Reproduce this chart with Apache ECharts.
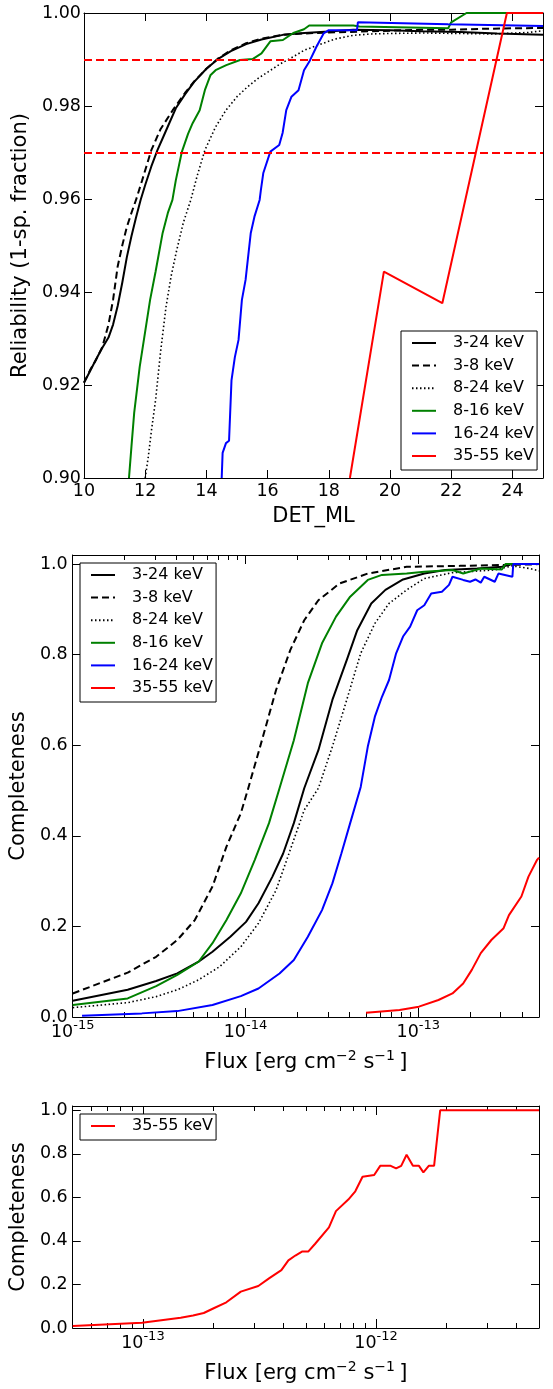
<!DOCTYPE html>
<html><head><meta charset="utf-8">
<script src="https://cdn.jsdelivr.net/npm/echarts@6/dist/echarts.min.js"></script>
<style>html,body{margin:0;padding:0;background:#fff}#c{width:553px;height:1389px}</style>
</head><body><div id="c"></div>
<script>
// ================= DATA =================
const bands = ['3-24 keV', '3-8 keV', '8-24 keV', '8-16 keV', '16-24 keV', '35-55 keV'];

// --- Panel 1: Reliability (1 - spurious fraction) vs DET_ML ---
const detML_3_24 = [10.0,10.2,10.4,10.6,10.8,10.95,11.1,11.25,11.4,11.55,11.7,11.85,12.0,12.2,12.4,12.6,12.8,13.0,13.3,13.6,14.0,14.4,14.8,15.3,15.8,16.5,17.2,18.0,18.8,20.0,21.0,22.3,23.5,25.0];
const rel_3_24   = [0.9205,0.9230,0.9256,0.9280,0.9302,0.9330,0.9370,0.9420,0.9475,0.9520,0.9560,0.9598,0.9630,0.9670,0.9705,0.9735,0.9765,0.9795,0.9825,0.9852,0.9880,0.9902,0.9918,0.9933,0.9943,0.9953,0.9957,0.9960,0.9964,0.9963,0.9961,0.9959,0.9956,0.9953];

const detML_3_8 = [10.0,10.2,10.4,10.6,10.8,10.95,11.1,11.25,11.4,11.55,11.7,11.9,12.2,12.5,12.9,13.3,13.6,14.0,14.4,14.8,15.3,15.8,16.5,17.2,18.0,19.0,20.0,21.0,22.0,23.0,24.0,25.0];
const rel_3_8   = [0.9205,0.9232,0.9255,0.9282,0.9330,0.9383,0.9455,0.9500,0.9540,0.9570,0.9598,0.9640,0.9705,0.9750,0.9791,0.9828,0.9853,0.9880,0.9903,0.9920,0.9935,0.9945,0.9953,0.9956,0.9958,0.9960,0.9962,0.9964,0.9964,0.9966,0.9967,0.9968];

const detML_8_24 = [12.0,12.1,12.2,12.34,12.5,12.68,12.85,13.03,13.25,13.49,13.7,13.95,14.3,14.64,15.0,15.34,15.7,16.03,16.4,16.84,17.2,17.65,18.2,18.8,19.4,20.0,21.1,22.2,23.4,24.5,25.0];
const rel_8_24   = [0.9000,0.9045,0.9100,0.9168,0.9270,0.9368,0.9435,0.9490,0.9550,0.9598,0.9650,0.9705,0.9755,0.9791,0.9820,0.9841,0.9860,0.9874,0.9890,0.9906,0.9920,0.9931,0.9944,0.9952,0.9955,0.9956,0.9957,0.9956,0.9955,0.9958,0.9962];

const detML_8_16 = [11.47,11.55,11.64,11.82,11.99,12.16,12.34,12.57,12.74,12.89,13.0,13.2,13.4,13.55,13.78,13.95,14.13,14.3,14.65,15.1,15.51,15.8,16.09,16.5,16.84,17.19,17.36,18.8,19.0,21.9,22.0,22.5,25.0];
const rel_8_16   = [0.9000,0.9067,0.9140,0.9239,0.9311,0.9383,0.9444,0.9527,0.9570,0.9598,0.9640,0.9702,0.9740,0.9763,0.9791,0.9834,0.9866,0.9877,0.9888,0.9899,0.9901,0.9913,0.9939,0.9942,0.9957,0.9965,0.9973,0.9973,0.9971,0.9967,0.9980,1.0000,1.0000];

const detML_16_24 = [14.5,14.53,14.64,14.74,14.82,14.93,15.05,15.16,15.28,15.45,15.57,15.74,15.78,15.86,16.09,16.38,16.49,16.61,16.78,17.01,17.19,17.36,17.6,17.83,18.0,18.92,18.95,21.9,25.0];
const rel_16_24   = [0.9000,0.9054,0.9075,0.9080,0.9210,0.9260,0.9297,0.9383,0.9426,0.9527,0.9562,0.9598,0.9619,0.9656,0.9702,0.9716,0.9742,0.9791,0.9820,0.9834,0.9877,0.9895,0.9928,0.9956,0.9963,0.9963,0.9980,0.9976,0.9972];

const detML_35_55 = [18.69,19.8,21.71,23.82,25.0];
const rel_35_55   = [0.900,0.9444,0.9376,1.000,1.000];

const relThresholds = [0.99, 0.97];
const detMLTicks = [10,12,14,16,18,20,22,24];

// --- Panel 2: Completeness vs flux (erg cm^-2 s^-1) ---
const flux_3_24 = [1.0e-15,2.08e-15,3.04e-15,4.03e-15,5.35e-15,6.44e-15,8.17e-15,1.007e-14,1.189e-14,1.432e-14,1.652e-14,1.905e-14,2.188e-14,2.642e-14,3.184e-14,3.855e-14,4.436e-14,5.346e-14,6.457e-14,8.166e-14,1.084e-13,1.432e-13,2.193e-13,3.048e-13,3.491e-13,5.0e-13];
const comp_3_24 = [0.036,0.060,0.0795,0.0964,0.122,0.144,0.177,0.210,0.251,0.310,0.361,0.428,0.505,0.589,0.700,0.788,0.854,0.913,0.943,0.966,0.979,0.987,0.990,0.994,1.0,1.0];

const flux_3_8 = [1.0e-15,2.08e-15,3.04e-15,4.03e-15,5.09e-15,6.44e-15,7.76e-15,9.40e-15,1.030e-14,1.245e-14,1.503e-14,1.816e-14,2.188e-14,2.642e-14,3.499e-14,5.105e-14,8.570e-14,1.738e-13,4.467e-13,5.0e-13];
const comp_3_8 = [0.052,0.098,0.133,0.170,0.214,0.288,0.376,0.450,0.501,0.611,0.722,0.810,0.876,0.920,0.957,0.979,0.994,0.996,0.999,1.0];

const flux_8_24 = [1.0e-15,2.08e-15,3.04e-15,4.03e-15,5.35e-15,7.08e-15,9.40e-15,1.189e-14,1.503e-14,1.816e-14,2.188e-14,2.642e-14,3.184e-14,3.855e-14,4.645e-14,5.610e-14,6.776e-14,8.570e-14,1.084e-13,1.578e-13,2.773e-13,3.491e-13,4.436e-13,5.0e-13];
const comp_8_24 = [0.0206,0.0317,0.045,0.060,0.082,0.111,0.155,0.207,0.280,0.369,0.457,0.505,0.597,0.700,0.803,0.869,0.913,0.943,0.968,0.981,0.987,0.996,0.990,0.985];

const flux_8_16 = [1.0e-15,2.08e-15,3.04e-15,4.03e-15,5.35e-15,6.44e-15,7.76e-15,9.40e-15,1.132e-14,1.368e-14,1.574e-14,1.905e-14,2.296e-14,2.773e-14,3.342e-14,4.036e-14,5.105e-14,6.166e-14,8.570e-14,1.084e-13,1.578e-13,1.820e-13,2.301e-13,3.048e-13,3.199e-13,5.0e-13];
const comp_8_16 = [0.0265,0.041,0.068,0.093,0.122,0.163,0.214,0.273,0.347,0.428,0.505,0.611,0.737,0.825,0.884,0.928,0.965,0.976,0.979,0.983,0.987,0.979,0.990,0.988,1.0,1.0];

const flux_16_24 = [1.132e-15,2.512e-15,4.03e-15,6.44e-15,9.40e-15,1.189e-14,1.574e-14,1.905e-14,2.296e-14,2.773e-14,3.184e-14,3.589e-14,4.036e-14,4.645e-14,5.105e-14,5.610e-14,6.166e-14,6.776e-14,7.447e-14,8.166e-14,8.974e-14,9.863e-14,1.084e-13,1.189e-13,1.371e-13,1.507e-13,1.578e-13,1.820e-13,1.995e-13,2.143e-13,2.301e-13,2.410e-13,2.773e-13,2.911e-13,3.508e-13,3.548e-13,5.0e-13];
const comp_16_24 = [0.003,0.008,0.013,0.0265,0.046,0.063,0.096,0.126,0.177,0.236,0.295,0.361,0.428,0.508,0.597,0.663,0.707,0.744,0.803,0.840,0.862,0.898,0.909,0.935,0.939,0.954,0.972,0.965,0.961,0.966,0.959,0.972,0.961,0.979,0.972,1.0,1.0];

const flux_35_55 = [4.989e-14,7.798e-14,1.009e-13,1.309e-13,1.578e-13,1.820e-13,2.042e-13,2.301e-13,2.649e-13,3.119e-13,3.350e-13,3.954e-13,4.345e-13,4.875e-13,5.0e-13];
const comp_35_55 = [0.0095,0.0155,0.0228,0.0375,0.052,0.074,0.104,0.141,0.170,0.196,0.225,0.266,0.310,0.347,0.352];

// --- Panel 3: 35-55 keV completeness over a wider flux range ---
const fluxWide_35_55 = [5.0e-14,9.91e-14,1.452e-13,1.641e-13,1.824e-13,2.023e-13,2.280e-13,2.630e-13,3.126e-13,3.475e-13,3.926e-13,4.207e-13,4.508e-13,4.831e-13,5.129e-13,5.470e-13,6.281e-13,6.730e-13,7.603e-13,8.147e-13,8.750e-13,8.913e-13,9.817e-13,1.042e-12,1.156e-12,1.219e-12,1.282e-12,1.352e-12,1.439e-12,1.528e-12,1.596e-12,1.683e-12,1.774e-12,1.884e-12,5.0e-12];
const compWide_35_55 = [0.009,0.024,0.047,0.057,0.069,0.092,0.118,0.167,0.193,0.228,0.266,0.311,0.333,0.352,0.352,0.386,0.462,0.537,0.590,0.628,0.695,0.703,0.703,0.745,0.745,0.733,0.745,0.796,0.745,0.745,0.715,0.745,0.745,1.0,1.0];

// ================= STYLE =================
const FF = 'DejaVu Sans';
const TFS = 17.5, NFS = 21, LFS = 16;
const BLACK = '#000000', GREEN = '#008000', BLUE = '#0000ff', RED = '#ff0000';
const bandStyle = {
  '3-24 keV':  {color: BLACK, type: 'solid', width: 2},
  '3-8 keV':   {color: BLACK, type: [7, 4], width: 2},
  '8-24 keV':  {color: BLACK, type: [1.5, 2.5], width: 1.6},
  '8-16 keV':  {color: GREEN, type: 'solid', width: 2},
  '16-24 keV': {color: BLUE, type: 'solid', width: 2},
  '35-55 keV': {color: RED, type: 'solid', width: 2}
};
const FLUX_UNIT = 1e-15; // log axes run in units of 1e-15 erg cm^-2 s^-1

function zip(x, y, scale) { return x.map((v, i) => [scale ? v / scale : v, y[i]]); }
function lineSeries(name, xi, yi, data) {
  const s = bandStyle[name];
  return {type: 'line', name, xAxisIndex: xi, yAxisIndex: yi, data, symbol: 'none', showSymbol: false,
    clip: false, animation: false, silent: true,
    lineStyle: {color: s.color, type: s.type, width: s.width}, itemStyle: {color: s.color}};
}
const axLine = {show: true, onZero: false, lineStyle: {color: BLACK, width: 1}};
const tickStyle = {color: BLACK, width: 1};
const labelBase = {color: BLACK, fontFamily: FF, fontSize: TFS};
const nameStyle = {color: BLACK, fontFamily: FF, fontSize: NFS};

function logLabel(v) {
  const l = Math.log10(v);
  const e = Math.round(l);
  if (Math.abs(l - e) > 1e-6) return '';
  return '{b|10}{s|' + (e + Math.round(Math.log10(FLUX_UNIT))) + '}';
}
const logRich = {
  b: {fontFamily: FF, fontSize: TFS, color: BLACK, lineHeight: 27},
  s: {fontFamily: FF, fontSize: 13, color: BLACK, lineHeight: 14, verticalAlign: 'top'}
};
const fluxName = 'Flux [erg cm{s|\u22122} s{s|\u22121}\u2009]';
const fluxNameStyle = Object.assign({}, nameStyle, {lineHeight: 28,
  rich: {s: {fontFamily: FF, fontSize: 14, color: BLACK, lineHeight: 14, verticalAlign: 'top'}}});

function logAxes(grid, min, max) {
  const common = {gridIndex: grid, type: 'log', logBase: 10, min, max, splitLine: {show: false},
    axisLine: axLine, axisTick: {inside: true, length: 9, lineStyle: tickStyle},
    minorTick: {show: true, splitNumber: 9, length: 5, lineStyle: tickStyle}, minorSplitLine: {show: false}};
  return [
    Object.assign({}, common, {position: 'bottom',
      axisLabel: {margin: 2, formatter: logLabel, rich: logRich, color: BLACK, fontFamily: FF},
      name: fluxName, nameLocation: 'middle', nameGap: 32, nameTextStyle: fluxNameStyle}),
    Object.assign({}, common, {position: 'top', axisLabel: {show: false}})
  ];
}
function compYAxes(grid) {
  const common = {gridIndex: grid, type: 'value', min: 0, max: 1.02, interval: 0.2, splitLine: {show: false},
    axisLine: axLine, axisTick: {inside: true, length: 8, lineStyle: tickStyle}};
  return [
    Object.assign({}, common, {position: 'left',
      axisLabel: Object.assign({}, labelBase, {margin: 5, formatter: v => v > 1.001 ? '' : v.toFixed(1)}),
      name: 'Completeness', nameLocation: 'middle', nameGap: 33, nameRotate: 90, nameTextStyle: nameStyle}),
    Object.assign({}, common, {position: 'right', axisLabel: {show: false}})
  ];
}

const xAxes = [
  {gridIndex: 0, type: 'value', position: 'bottom', min: 10, max: 25, interval: 2, splitLine: {show: false},
   axisLine: axLine, axisTick: {inside: true, length: 8, lineStyle: tickStyle},
   axisLabel: Object.assign({}, labelBase, {margin: 4, formatter: v => detMLTicks.includes(v) ? String(v) : ''}),
   name: 'DET_ML', nameLocation: 'middle', nameGap: 28, nameTextStyle: nameStyle},
  {gridIndex: 0, type: 'value', position: 'top', min: 10, max: 25, interval: 2, splitLine: {show: false},
   axisLine: axLine, axisTick: {inside: true, length: 8, lineStyle: tickStyle}, axisLabel: {show: false}}
].concat(logAxes(1, 1, 500), logAxes(2, 50, 5000));

const yAxes = [
  {gridIndex: 0, type: 'value', position: 'left', min: 0.9, max: 1.0, interval: 0.02, splitLine: {show: false},
   axisLine: axLine, axisTick: {inside: true, length: 8, lineStyle: tickStyle},
   axisLabel: Object.assign({}, labelBase, {margin: 3, formatter: v => v.toFixed(2)}),
   name: 'Reliability (1-sp. fraction)', nameLocation: 'middle', nameGap: 42, nameRotate: 90, nameTextStyle: nameStyle},
  {gridIndex: 0, type: 'value', position: 'right', min: 0.9, max: 1.0, interval: 0.02, splitLine: {show: false},
   axisLine: axLine, axisTick: {inside: true, length: 8, lineStyle: tickStyle}, axisLabel: {show: false}}
].concat(compYAxes(1), compYAxes(2));

const series = [
  lineSeries('3-24 keV', 0, 0, zip(detML_3_24, rel_3_24)),
  lineSeries('3-8 keV', 0, 0, zip(detML_3_8, rel_3_8)),
  lineSeries('8-24 keV', 0, 0, zip(detML_8_24, rel_8_24)),
  lineSeries('8-16 keV', 0, 0, zip(detML_8_16, rel_8_16)),
  lineSeries('16-24 keV', 0, 0, zip(detML_16_24, rel_16_24)),
  lineSeries('35-55 keV', 0, 0, zip(detML_35_55, rel_35_55)),
  {type: 'line', name: 'thresholds', xAxisIndex: 0, yAxisIndex: 0, data: [], silent: true, animation: false,
   markLine: {symbol: 'none', silent: true, animation: false, label: {show: false},
     lineStyle: {color: RED, width: 2, type: [8, 4]}, emphasis: {disabled: true},
     data: relThresholds.map(t => ({yAxis: t}))}},
  lineSeries('3-24 keV', 2, 2, zip(flux_3_24, comp_3_24, FLUX_UNIT)),
  lineSeries('3-8 keV', 2, 2, zip(flux_3_8, comp_3_8, FLUX_UNIT)),
  lineSeries('8-24 keV', 2, 2, zip(flux_8_24, comp_8_24, FLUX_UNIT)),
  lineSeries('8-16 keV', 2, 2, zip(flux_8_16, comp_8_16, FLUX_UNIT)),
  lineSeries('16-24 keV', 2, 2, zip(flux_16_24, comp_16_24, FLUX_UNIT)),
  lineSeries('35-55 keV', 2, 2, zip(flux_35_55, comp_35_55, FLUX_UNIT)),
  lineSeries('35-55 keV', 4, 4, zip(fluxWide_35_55, compWide_35_55, FLUX_UNIT))
];

function legendBox(left, top, names) {
  return {orient: 'vertical', left, top, data: names, selectedMode: false,
    itemWidth: 24, itemHeight: 12, itemGap: 6.6, padding: [4, 3, 6, 10],
    backgroundColor: '#fff', borderColor: BLACK, borderWidth: 1, borderRadius: 0,
    itemStyle: {opacity: 0, borderWidth: 0},
    textStyle: {color: BLACK, fontFamily: FF, fontSize: LFS, lineHeight: 16, padding: [0, 0, 0, 12]}};
}

const chart = echarts.init(document.getElementById('c'), null, {renderer: 'canvas'});
chart.setOption({
  backgroundColor: '#fff',
  animation: false,
  grid: [
    {left: 84, top: 13, width: 459, height: 465},
    {left: 72, top: 555, width: 467, height: 462},
    {left: 72, top: 1106, width: 467, height: 227}
  ],
  xAxis: xAxes,
  yAxis: yAxes,
  legend: [
    legendBox(401, 331, bands),
    legendBox(80, 563, bands),
    legendBox(80, 1114, ['35-55 keV'])
  ],
  series
});
</script></body></html>
